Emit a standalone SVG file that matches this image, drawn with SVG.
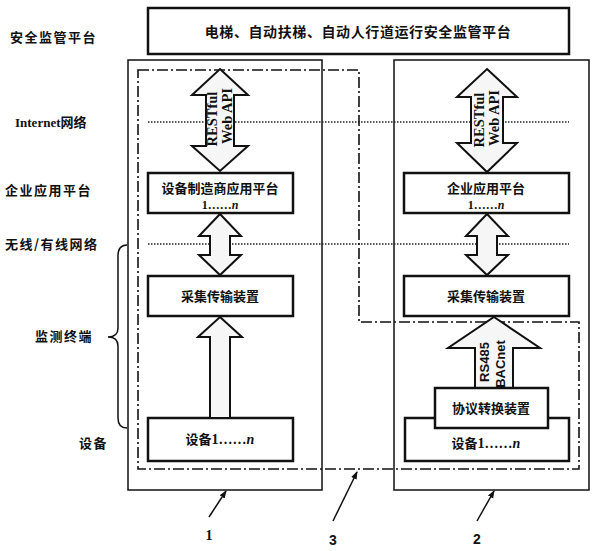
<svg xmlns="http://www.w3.org/2000/svg" width="597" height="551" viewBox="0 0 597 551">
<style>
.cn{font-family:"Noto Sans CJK SC","Noto Sans",sans-serif;font-weight:bold;fill:#111}
.lbl{font-size:13px;letter-spacing:1.5px}
.bx{font-size:13px;text-anchor:middle}
.ser{font-family:"Liberation Serif",serif;font-weight:bold;fill:#111}
.san{font-family:"Liberation Sans",sans-serif;font-weight:bold;fill:#111}
.box{fill:#fff;stroke:#111;stroke-width:2.5}
.panel{fill:none;stroke:#111;stroke-width:1.5}
.dot{stroke:#222;stroke-width:1.5;stroke-dasharray:1.5,1.5;fill:none}
.dd{fill:none;stroke:#111;stroke-width:1.6;stroke-dasharray:11,3,2,3}
.arw{fill:#f6f6f6;stroke:#111;stroke-width:2;stroke-linejoin:miter}
.ptr{stroke:#111;stroke-width:1.5;fill:none}
</style>
<defs>
<marker id="ah" markerWidth="8" markerHeight="8" refX="7" refY="4" orient="auto" markerUnits="userSpaceOnUse">
<path d="M0,1 L8,4 L0,7 Z" fill="#111"/>
</marker>
</defs>

<g id="labels">
<text class="cn lbl" x="10" y="42">安全监管平台</text>
<text class="ser" x="15" y="127" font-size="13">Internet<tspan class="cn" font-size="13">网络</tspan></text>
<text class="cn lbl" x="5" y="195">企业应用平台</text>
<text class="cn lbl" x="5" y="249">无线/有线网络</text>
<text class="cn lbl" x="35" y="341">监测终端</text>
<text class="cn lbl" x="79" y="448">设备</text>
</g>

<g id="panel1"><rect class="panel" x="128" y="60" width="194" height="430"/></g>
<g id="panel2"><rect class="panel" x="394" y="60" width="195" height="430"/></g>

<g id="networks">
<line class="dot" x1="148" y1="122" x2="569" y2="122"/>
<line class="dot" x1="148" y1="244" x2="569" y2="244"/>
</g>

<g id="region3"><path class="dd" d="M138,70 H359 V322 H579 V469 H138 Z"/></g>

<g id="top">
<rect class="box" x="148" y="8" width="421" height="46"/>
<text class="cn" x="358" y="37" font-size="14" text-anchor="middle" letter-spacing="0.6">电梯、自动扶梯、自动人行道运行安全监管平台</text>
</g>

<g id="mfr-platform">
<rect class="box" x="148" y="173" width="145" height="40"/>
<text class="cn bx" x="220" y="193">设备制造商应用平台</text>
<text class="ser" x="220" y="209" font-size="12" text-anchor="middle">1……<tspan font-style="italic">n</tspan></text>
</g>
<g id="ent-platform">
<rect class="box" x="404" y="173" width="165" height="40"/>
<text class="cn bx" x="486" y="193">企业应用平台</text>
<text class="ser" x="486" y="209" font-size="12" text-anchor="middle">1……<tspan font-style="italic">n</tspan></text>
</g>
<g id="collect1">
<rect class="box" x="148" y="276" width="145" height="40"/>
<text class="cn bx" x="220" y="301">采集传输装置</text>
</g>
<g id="collect2">
<rect class="box" x="404" y="276" width="165" height="40"/>
<text class="cn bx" x="486" y="301">采集传输装置</text>
</g>
<g id="device1">
<rect class="box" x="148" y="418" width="145" height="43"/>
<text class="cn bx" x="220" y="444">设备<tspan class="ser" font-size="14">1……<tspan font-style="italic">n</tspan></tspan></text>
</g>
<g id="device2">
<rect class="box" x="405" y="418" width="164" height="43"/>
<text class="cn bx" x="486" y="448">设备<tspan class="ser" font-size="14">1……<tspan font-style="italic">n</tspan></tspan></text>
</g>

<g id="connectors">
<path class="arw" d="M220,69 L248,95 L234,95 L234,146 L248,146 L220,171 L192,146 L206,146 L206,95 L192,95 Z"/>
<path class="arw" d="M487,69 L517,97 L503,97 L503,143 L517,143 L487,172 L457,143 L471,143 L471,97 L457,97 Z"/>
<path class="arw" d="M220,214 L241,236 L230,236 L230,255 L241,255 L220,275 L199,255 L210,255 L210,236 L199,236 Z"/>
<path class="arw" d="M487,214 L508,236 L497,236 L497,255 L508,255 L487,275 L466,255 L477,255 L477,236 L466,236 Z"/>
<path class="arw" d="M220,317 L242,337 L230,337 L230,418 L210,418 L210,337 L198,337 Z"/>
<path class="arw" d="M494,317 L540,348 L513,348 L513,388 L475,388 L475,348 L448,348 Z"/>
<line class="ptr" x1="209" y1="517" x2="226" y2="491" marker-end="url(#ah)"/>
<line class="ptr" x1="333" y1="521" x2="357" y2="472" marker-end="url(#ah)"/>
<line class="ptr" x1="477" y1="521" x2="494" y2="491" marker-end="url(#ah)"/>
</g>

<g id="protocol">
<rect class="box" x="435" y="388" width="113" height="40"/>
<text class="cn bx" x="491" y="413">协议转换装置</text>
</g>

<g id="arrow-texts">
<text class="ser" font-size="14.5" text-anchor="middle" transform="translate(217,119) rotate(-90)">RESTful</text>
<text class="ser" font-size="14.5" text-anchor="middle" transform="translate(232,116) rotate(-90)">Web API</text>
<text class="ser" font-size="14.5" text-anchor="middle" transform="translate(484,120) rotate(-90)">RESTful</text>
<text class="ser" font-size="14.5" text-anchor="middle" transform="translate(499,118) rotate(-90)">Web API</text>
<text class="san" font-size="13" text-anchor="middle" transform="translate(489,362) rotate(-90)">RS485</text>
<text class="san" font-size="13" text-anchor="middle" transform="translate(505,364) rotate(-90)">BACnet</text>
</g>

<g id="brace">
<path class="ptr" d="M127,245 Q118,245 118,256 L118,328 Q118,337 108,337 Q118,337 118,346 L118,418 Q118,428 127,428"/>
</g>

<g id="numbers">
<text class="ser" x="209" y="540" font-size="14" text-anchor="middle">1</text>
<text class="san" x="333" y="545" font-size="14" text-anchor="middle">3</text>
<text class="san" x="477" y="544" font-size="14" text-anchor="middle">2</text>
</g>
</svg>
